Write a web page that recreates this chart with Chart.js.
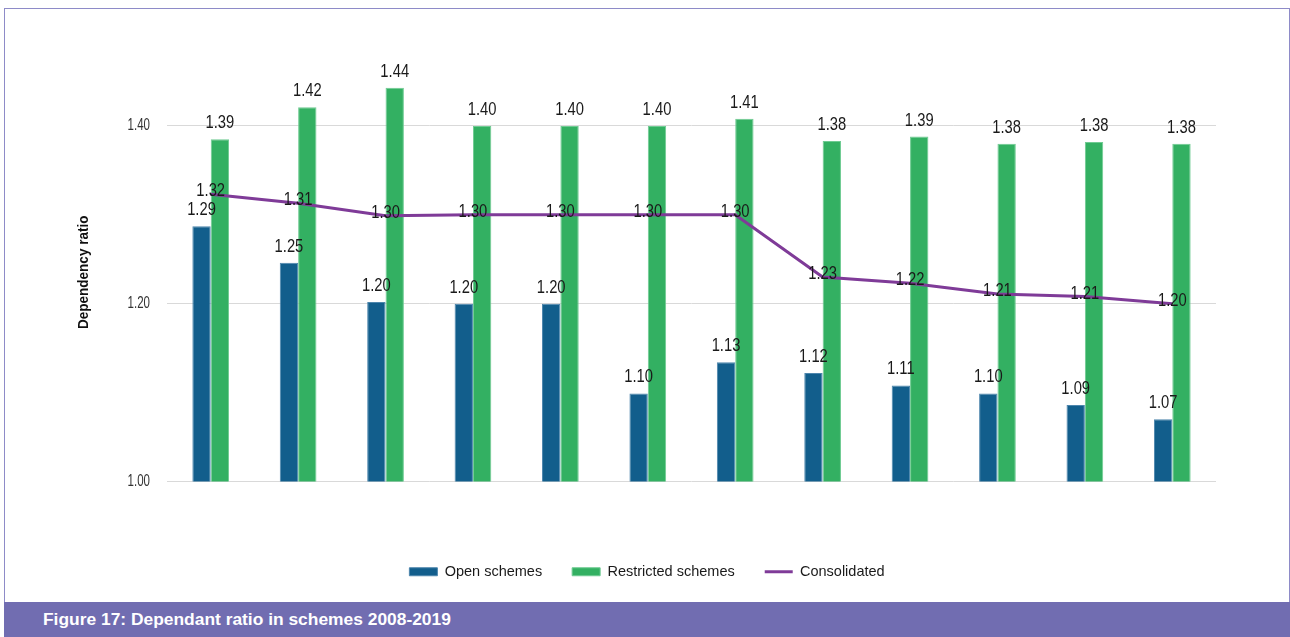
<!DOCTYPE html>
<html>
<head>
<meta charset="utf-8">
<title>Dependant ratio in schemes 2008-2019</title>
<script src="https://cdn.jsdelivr.net/npm/chart.js@4/dist/chart.umd.min.js"></script>
<style>
  body { margin: 0; background: #fff; font-family: "Liberation Sans", Arial, sans-serif; }
  #box { position: absolute; left: 4px; top: 8px; width: 1284px; height: 593px; border: 1px solid #8e8bc8; border-bottom: none; }
  #box canvas { position: absolute; left: 0; top: 0; }
  #caption { position: absolute; left: 4px; top: 602px; width: 1286px; height: 35px; background: #716db1;
             color: #fff; font-weight: bold; font-size: 17.4px; line-height: 35px; padding-left: 39px; box-sizing: border-box; }
</style>
</head>
<body>
<div id="box"><canvas id="chart" width="1284" height="593"></canvas></div>
<div id="caption">Figure 17: Dependant ratio in schemes 2008-2019</div>
<script>
  // values
  const years = ['2008', '2009', '2010', '2011', '2012', '2013', '2014', '2015', '2016', '2017', '2018', '2019'];
  const openSchemes = [1.287, 1.246, 1.202, 1.200, 1.200, 1.099, 1.134, 1.122, 1.108, 1.099, 1.086, 1.070];
  const restrictedSchemes = [1.385, 1.421, 1.443, 1.400, 1.400, 1.400, 1.408, 1.383, 1.388, 1.380, 1.382, 1.380];
  const consolidated = [1.323, 1.313, 1.299, 1.300, 1.300, 1.300, 1.300, 1.230, 1.223, 1.211, 1.208, 1.200];
  const yTicks = [1.0, 1.2, 1.4];
  const yTitle = 'Dependency ratio';

  const font = '"Liberation Sans", Arial, sans-serif';

  // squeezed text, the original uses a narrow font that is not installed here
  function narrowText(ctx, txt, x, y, squeeze, rot) {
    ctx.save();
    ctx.translate(x, y);
    if (rot) ctx.rotate(rot);
    ctx.scale(squeeze, 1);
    ctx.fillText(txt, 0, 0);
    ctx.restore();
  }

  // value labels, y tick labels and y title
  const textLayer = {
    id: 'textLayer',
    afterDatasetsDraw(chart) {
      const ctx = chart.ctx;
      const yScale = chart.scales.y;
      const area = chart.chartArea;
      ctx.save();

      ctx.fillStyle = '#333';
      ctx.font = '16px ' + font;
      ctx.textAlign = 'right';
      ctx.textBaseline = 'middle';
      yTicks.forEach(v => {
        narrowText(ctx, v.toFixed(2), area.left - 17, yScale.getPixelForValue(v), 0.72);
      });

      ctx.fillStyle = '#111';
      ctx.font = 'bold 15px ' + font;
      ctx.textAlign = 'center';
      narrowText(ctx, yTitle, 79, (area.top + area.bottom) / 2 + 13, 0.9, -Math.PI / 2);

      ctx.font = '18px ' + font;
      ctx.fillStyle = '#1a1a1a';
      chart.data.datasets.forEach((ds, i) => {
        const meta = chart.getDatasetMeta(i);
        meta.data.forEach((el, j) => {
          const txt = ds.data[j].toFixed(2);
          if (ds.type === 'line') {
            ctx.textBaseline = 'middle';
            narrowText(ctx, txt, el.x, el.y - 3, 0.82);
          } else {
            ctx.textBaseline = 'bottom';
            narrowText(ctx, txt, el.x, el.y - 7, 0.82);
          }
        });
      });
      ctx.restore();
    }
  };

  new Chart(document.getElementById('chart'), {
    data: {
      labels: years,
      datasets: [
        {
          type: 'bar',
          label: 'Open schemes',
          data: openSchemes,
          backgroundColor: '#125e8c',
          borderColor: '#4d86ad',
          borderWidth: 1,
          pointStyle: 'rect',
          order: 1
        },
        {
          type: 'bar',
          label: 'Restricted schemes',
          data: restrictedSchemes,
          backgroundColor: '#33b062',
          borderColor: '#6fcb92',
          borderWidth: 1,
          pointStyle: 'rect',
          order: 1
        },
        {
          type: 'line',
          label: 'Consolidated',
          data: consolidated,
          borderColor: '#7f3b98',
          backgroundColor: '#7f3b98',
          borderWidth: 3,
          pointRadius: 0,
          pointStyle: 'line',
          tension: 0,
          order: 0
        }
      ]
    },
    options: {
      responsive: false,
      animation: false,
      datasets: {
        bar: { barPercentage: 1, categoryPercentage: 0.42 }
      },
      layout: { padding: { left: 73, right: 73, top: 28, bottom: 13 } },
      scales: {
        x: {
          grid: { display: false },
          border: { display: false },
          ticks: { display: false },
          afterFit(scale) { scale.height = 53; }
        },
        y: {
          min: 1.0,
          max: 1.5,
          afterBuildTicks(scale) {
            scale.ticks = yTicks.map(v => ({ value: v }));
          },
          afterFit(scale) { scale.width = 89; },
          border: { display: false },
          grid: { color: '#d9d9d9', drawTicks: false, lineWidth: 1 },
          ticks: { display: false }
        }
      },
      plugins: {
        tooltip: { enabled: false },
        legend: {
          position: 'bottom',
          labels: {
            usePointStyle: true,
            pointStyleWidth: 28,
            boxHeight: 8,
            padding: 30,
            color: '#1a1a1a',
            font: { family: font, size: 14.5 },
            sort: (a, b) => a.datasetIndex - b.datasetIndex
          }
        }
      }
    },
    plugins: [textLayer]
  });
</script>
</body>
</html>
